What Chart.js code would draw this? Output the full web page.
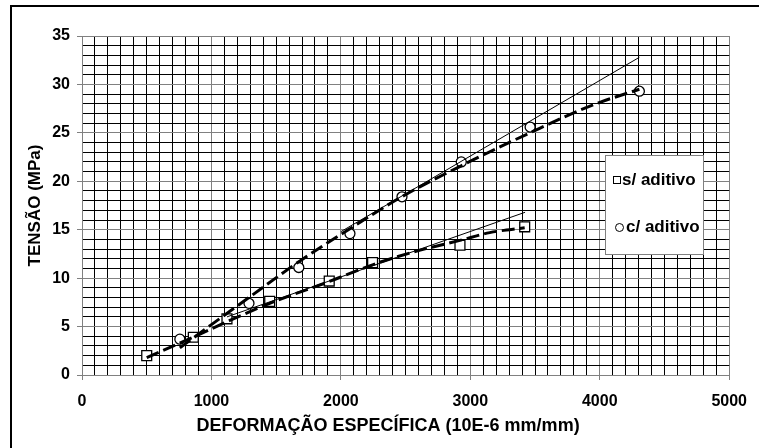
<!DOCTYPE html>
<html>
<head>
<meta charset="utf-8">
<script src="https://cdn.jsdelivr.net/npm/chart.js@4.4.0/dist/chart.umd.min.js"></script>
<style>
html, body { margin: 0; padding: 0; background: #fff; }
#wrap { position: relative; width: 759px; height: 448px; overflow: hidden; }
#stress_chart { position: absolute; left: 0; top: 0; }
#frame { position: absolute; left: 10px; top: 5px; width: 800px; height: 500px; border-left: 2px solid #000; border-top: 2px solid #000; }
</style>
</head>
<body>
<div id="wrap">
    <canvas id="stress_chart" width="759" height="448"></canvas>
    <div id="frame"></div>
</div>
<script>
// measured points
const sem_x = [500, 860, 1120, 1450, 1910, 2245, 2920, 3420];
const sem_y = [2.0, 3.9, 5.8, 7.6, 9.7, 11.6, 13.4, 15.3];
const com_x = [756, 1290, 1675, 2070, 2472, 2930, 3462, 4306];
const com_y = [3.7, 7.4, 11.1, 14.6, 18.4, 22.0, 25.6, 29.3];

// dashed trend curves
const sem_trend_x = [500, 860, 1120, 1450, 1900, 2250, 2560, 2920, 3150, 3420];
const sem_trend_y = [1.8, 3.9, 5.5, 7.4, 9.6, 11.4, 12.7, 13.9, 14.7, 15.2];
const com_trend_x = [756, 1000, 1290, 1675, 2070, 2470, 2930, 3460, 3950, 4306];
const com_trend_y = [2.8, 5.2, 8.0, 11.7, 15.1, 18.4, 21.6, 25.0, 27.9, 29.5];

// thin straight lines
const sem_line_x = [1120, 3423];
const sem_line_y = [6.0, 16.8];
const com_line_x = [2000, 4306];
const com_line_y = [14.8, 32.8];

const x_labels = [0, 1000, 2000, 3000, 4000, 5000];
const y_labels = [0, 5, 10, 15, 20, 25, 30, 35];
const legend_labels = ["s/ aditivo", "c/ aditivo"];

const FONT = '"Liberation Sans", Arial, sans-serif';

function toPoints(xs, ys) {
    var pts = [];
    for (var i = 0; i < xs.length; i++) {
        pts.push({ x: xs[i], y: ys[i] });
    }
    return pts;
}

function trendSet(xs, ys) { // thick dashed curve
    return {
        data: toPoints(xs, ys),
        showLine: true,
        borderColor: '#000',
        borderWidth: 3,
        borderDash: [13, 5],
        cubicInterpolationMode: 'monotone',
        pointRadius: 0
    };
}

function straightSet(xs, ys) {
    return {
        data: toPoints(xs, ys),
        showLine: true,
        borderColor: '#000',
        borderWidth: 1,
        pointRadius: 0
    };
}

function markerSet(xs, ys, style, r) {
    return {
        data: toPoints(xs, ys),
        showLine: false,
        pointStyle: style,
        pointRadius: r,
        pointBorderWidth: 1.3,
        pointBorderColor: '#000',
        pointBackgroundColor: '#fff'
    };
}

const legendBox = { // legend drawn inside the plot
    id: 'legendBox',
    afterDatasetsDraw: function (chart) {
        var c = chart.ctx;
        c.save();
        c.fillStyle = '#fff';
        c.fillRect(605, 155, 98, 99);
        c.strokeStyle = '#808080';
        c.lineWidth = 1;
        c.strokeRect(605.5, 155.5, 98, 99);
        c.strokeStyle = '#000';
        c.strokeRect(613.5, 176.5, 7, 7);
        c.beginPath();
        c.arc(619.5, 227.5, 4, 0, Math.PI * 2);
        c.stroke();
        c.fillStyle = '#000';
        c.font = 'bold 17px ' + FONT;
        c.textBaseline = 'middle';
        c.fillText(legend_labels[0], 622, 180);
        c.fillText(legend_labels[1], 626, 227);
        c.restore();
    }
};

const gridGrey = '#808080';

new Chart(document.getElementById('stress_chart').getContext('2d'), {
    type: 'scatter',
    data: {
        datasets: [
            trendSet(com_trend_x, com_trend_y),
            trendSet(sem_trend_x, sem_trend_y),
            straightSet(com_line_x, com_line_y),
            straightSet(sem_line_x, sem_line_y),
            markerSet(com_x, com_y, 'circle', 5),
            markerSet(sem_x, sem_y, 'rect', 7)
        ]
    },
    options: {
        responsive: false,
        animation: false,
        events: [],
        layout: { padding: { left: 20, top: 36, right: 29, bottom: 9 } },
        plugins: {
            legend: { display: false },
            tooltip: { enabled: false }
        },
        scales: {
            x: {
                type: 'linear',
                min: 0,
                max: 5000,
                afterFit: function (s) { s.height = 64; },
                border: { color: gridGrey, width: 1 },
                grid: {
                    color: function (ctx) { return ctx.tick && ctx.tick.value % 1000 === 0 ? gridGrey : '#000'; },
                    tickColor: function (ctx) { return ctx.tick && ctx.tick.value % 1000 === 0 ? gridGrey : 'rgba(0,0,0,0)'; },
                    tickLength: 5,
                    lineWidth: 1
                },
                ticks: {
                    stepSize: 100,
                    maxTicksLimit: 100,
                    autoSkip: false,
                    maxRotation: 0,
                    padding: 12,
                    color: '#000',
                    font: { family: FONT, size: 16, weight: 'bold' },
                    callback: function (v) { return x_labels.indexOf(v) >= 0 ? String(v) : ''; }
                },
                title: {
                    display: true,
                    // trailing spaces push the centred title a bit left, as in the original
                    text: 'DEFORMAÇÃO ESPECÍFICA (10E-6 mm/mm)\u00a0\u00a0\u00a0\u00a0\u00a0\u00a0\u00a0',
                    color: '#000',
                    padding: { top: 0, bottom: 2 },
                    font: { family: FONT, size: 18, weight: 'bold' }
                }
            },
            y: {
                min: 0,
                max: 35,
                afterFit: function (s) { s.width = 62; },
                border: { color: gridGrey, width: 1 },
                grid: {
                    color: function (ctx) { return ctx.tick && ctx.tick.value % 5 === 0 ? gridGrey : '#000'; },
                    tickColor: function (ctx) { return ctx.tick && ctx.tick.value % 5 === 0 ? gridGrey : 'rgba(0,0,0,0)'; },
                    tickLength: 5,
                    lineWidth: 1
                },
                ticks: {
                    stepSize: 1,
                    maxTicksLimit: 100,
                    autoSkip: false,
                    padding: 7,
                    color: '#000',
                    font: { family: FONT, size: 16, weight: 'bold' },
                    callback: function (v) { return y_labels.indexOf(v) >= 0 ? String(v) : ''; }
                },
                title: {
                    display: true,
                    text: 'TENSÃO (MPa)',
                    color: '#000',
                    padding: { top: 5, bottom: 0 },
                    font: { family: FONT, size: 17, weight: 'bold' }
                }
            }
        }
    },
    plugins: [legendBox]
});
</script>
</body>
</html>
